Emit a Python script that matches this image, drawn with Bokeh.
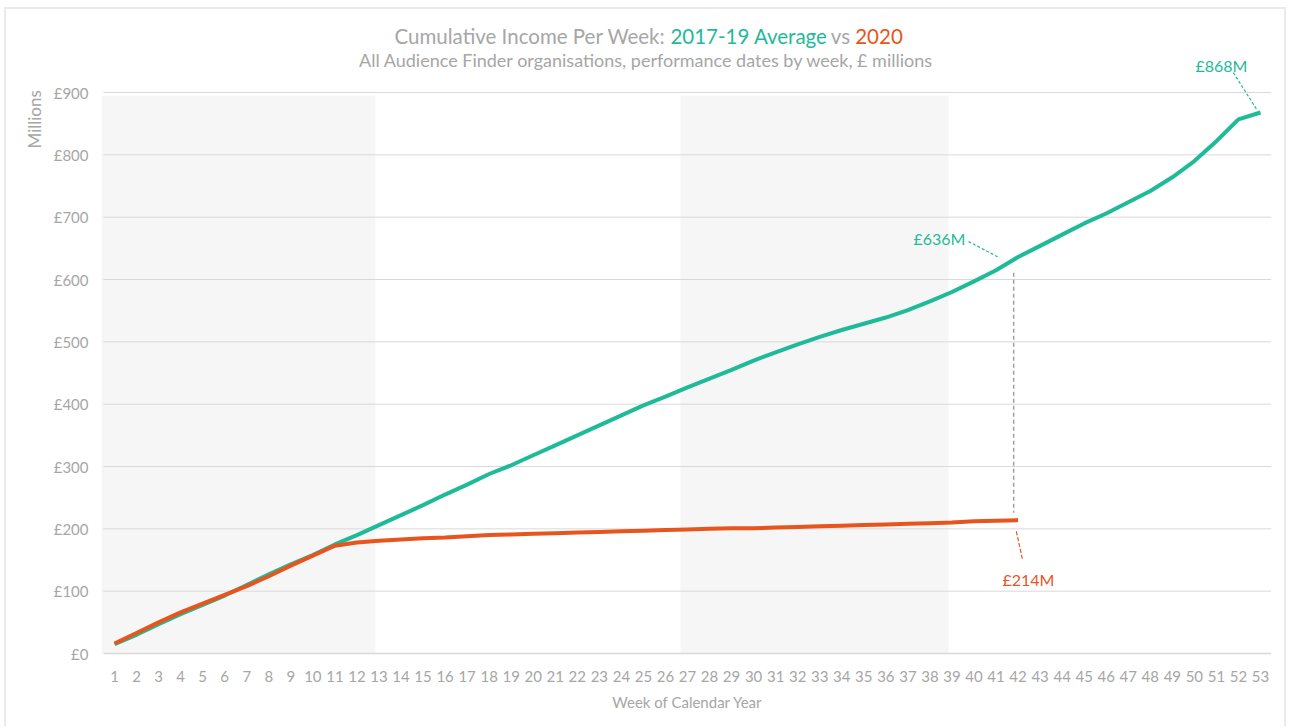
import math
from bokeh.plotting import figure
from bokeh.models import Label
from bokeh.core.properties import value
from bokeh.embed import file_html
from bokeh.resources import INLINE

# ---------------- data ----------------
weeks = list(range(1, 54))
week_labels = [str(w) for w in weeks]
avg_2017_19 = [15, 30, 47, 63, 78, 93, 110, 127, 143, 158,
               175, 190, 206, 222, 238, 255, 271, 288, 302, 318,
               334, 350, 366, 382, 398, 412, 427, 441, 455, 470,
               483, 496, 508, 519, 529, 539, 551, 565, 580, 597,
               615, 636, 654, 672, 690, 706, 724, 742, 764, 790,
               822, 857, 868]
weeks_2020 = list(range(1, 43))
inc_2020 = [16, 33, 50, 66, 80, 94, 108, 124, 141, 157,
            173, 178, 181, 183, 185, 186, 188, 190, 191, 192,
            193, 194, 195, 196, 197, 198, 199, 200, 201, 201,
            202, 203, 204, 205, 206, 207, 208, 209, 210, 212,
            213, 214]
band_left = [0.41, 26.68]
band_right = [12.84, 38.84]
band_top = [895, 895]
y_ticks = [0, 100, 200, 300, 400, 500, 600, 700, 800, 900]
y_tick_labels = ["\u00a3" + str(t) for t in y_ticks]

GREEN = "#1FBA98"
RED = "#E8541E"
GREY = "#A6A6A6"
GRID = "#D9D9D9"
FONT = "Lato"

X0, X1 = 0.5, 53.5   # extent of the plotting area (categories)

p = figure(width=1282, height=719, x_range=(-3.493, X1), y_range=(-120.3, 1033.2),
           output_backend="svg", toolbar_location=None,
           min_border_left=9, min_border_right=17, min_border_top=0, min_border_bottom=0,
           outline_line_color=None, background_fill_color="white", border_fill_color="white",
           styles={"border-top": "2px solid #EAEAEA", "border-left": "2px solid #EAEAEA",
                   "border-right": "2px solid #EAEAEA",
                   "margin-left": "4px", "margin-top": "7px"})
p.xaxis.visible = False
p.yaxis.visible = False
p.xgrid.visible = False
p.ygrid.visible = False

# shaded bands
p.quad(left=band_left, right=band_right, bottom=[0, 0], top=band_top,
       fill_color="#F6F6F6", line_color=None)

# grid (over the plotting area only) and x axis line
p.segment(x0=[X0] * len(y_ticks[1:]), x1=[X1] * len(y_ticks[1:]), y0=y_ticks[1:], y1=y_ticks[1:],
          line_color=GRID, line_width=1)
p.segment(x0=[X0], x1=[X1], y0=[0], y1=[0], line_color=GRID, line_width=1.5)

# y tick labels
p.text(x=[X0] * len(y_ticks), y=y_ticks, text=y_tick_labels, x_offset=-15,
       text_align="right", text_baseline="middle", text_color=GREY,
       text_font=value(FONT), text_font_size="15px")

# x tick labels
p.text(x=weeks, y=[0] * len(weeks), text=week_labels, y_offset=23,
       text_align="center", text_baseline="middle", text_color=GREY,
       text_font=value(FONT), text_font_size="15px")

# series
p.line(weeks, avg_2017_19, line_color=GREEN, line_width=4)
p.line(weeks_2020, inc_2020, line_color=RED, line_width=4)

# annotations: leader lines
g42 = avg_2017_19[41]
r42 = inc_2020[41]
g53 = avg_2017_19[52]
p.line([39.75, 41.1], [g42 + 25, g42], line_color=GREEN, line_width=1.2, line_dash="3 2")
p.line([41.8, 41.8], [g42 - 25, r42 + 12], line_color="#A0A0A0", line_width=1.5, line_dash="4 3")
p.line([41.92, 42.2], [r42 - 18, r42 - 63], line_color=RED, line_width=1.2, line_dash="4 2")
p.line([51.77, 52.86], [g53 + 64, g53 + 3], line_color=GREEN, line_width=1.2, line_dash="3 2")

def lab(x, y, text, color, size, align="center", angle=0.0):
    p.add_layout(Label(x=x, y=y, text=text, text_color=color, text_font=FONT,
                       text_font_size=size, text_align=align, text_baseline="middle",
                       angle=angle))

lab(38.43, g42 + 30, "\u00a3636M", GREEN, "16px")
lab(42.47, r42 - 95, "\u00a3214M", RED, "16px")
lab(51.23, g53 + 75, "\u00a3868M", GREEN, "16px")

# title pieces
lab(19.85, 990, "Cumulative Income Per Week:", GREY, "20.5px")
lab(29.79, 990, "2017-19 Average", GREEN, "20.5px")
lab(33.94, 990, "vs", GREY, "20.5px")
lab(35.69, 990, "2020", RED, "20.5px")
lab(25.14, 952, "All Audience Finder organisations, performance dates by week, \u00a3 millions", GREY, "18px")

# axis titles
lab(-2.62, 857, "Millions", GREY, "17px", angle=math.pi / 2)
lab((X0 + X1) / 2, -77, "Week of Calendar Year", GREY, "15px")

open("out.html", "w").write(file_html(p, INLINE))
